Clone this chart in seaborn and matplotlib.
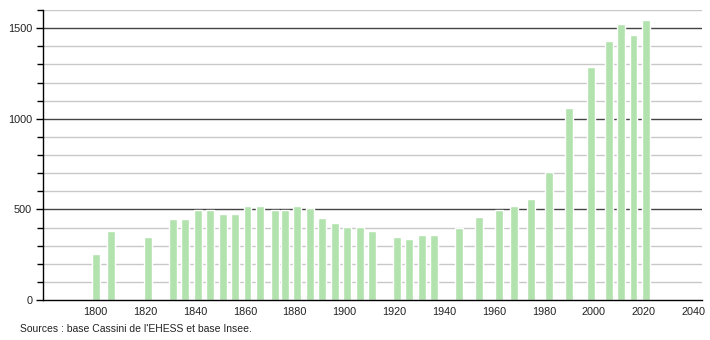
import matplotlib
matplotlib.use("Agg")
import matplotlib.pyplot as plt
import seaborn as sns
import pandas as pd
from matplotlib.ticker import MultipleLocator

years = [1800, 1806, 1821, 1831, 1836, 1841, 1846, 1851, 1856, 1861, 1866, 1872,
         1876, 1881, 1886, 1891, 1896, 1901, 1906, 1911, 1921, 1926, 1931, 1936,
         1946, 1954, 1962, 1968, 1975, 1982, 1990, 1999, 2006, 2011, 2016, 2021]
population = [255, 379, 346, 445, 449, 499, 499, 477, 477, 516, 516, 499,
              499, 516, 510, 455, 427, 405, 405, 382, 349, 338, 360, 360,
              397, 460, 499, 516, 558, 706, 1059, 1286, 1430, 1524, 1463, 1545]
x_ticks = list(range(1800, 2041, 20))
y_ticks = [0, 500, 1000, 1500]
source_text = "Sources : base Cassini de l'EHESS et base Insee."

df = pd.DataFrame({"annee": years, "pop": population})

sns.set_style("white")
plt.rcParams["font.family"] = ["Liberation Sans", "DejaVu Sans"]

fig = plt.figure(figsize=(7.1, 3.4), dpi=100)
ax = fig.add_axes([43.3 / 710, 40 / 340, (702 - 43.3) / 710, 290 / 340])

# grid lines
for v in range(100, 1601, 100):
    if v % 500 == 0:
        ax.axhline(v, color="#444444", lw=1.0, zorder=0)
    else:
        ax.axhline(v, color="#c8c8c8", lw=1.0, zorder=0)

sns.barplot(data=df, x="annee", y="pop", native_scale=True, width=0.8,
            color="#b2e3ae", saturation=1, ax=ax, zorder=2, errorbar=None)

ax.set_xlim(1779, 2043.5)
ax.set_ylim(0, 1600)
ax.set_xticks(x_ticks)
ax.set_xticklabels([str(t) for t in x_ticks])
ax.set_yticks(y_ticks)
ax.yaxis.set_minor_locator(MultipleLocator(100))
ax.set_xlabel("")
ax.set_ylabel("")

for s in ["top", "right"]:
    ax.spines[s].set_visible(False)
for s in ["left", "bottom"]:
    ax.spines[s].set_color("black")
    ax.spines[s].set_linewidth(1.0)

ax.tick_params(axis="x", which="both", bottom=False, length=0, labelsize=7.8,
               pad=5, colors="#222222")
ax.tick_params(axis="y", which="major", left=True, length=5, width=1,
               labelsize=7.8, pad=3, labelcolor="#222222", color="black")
ax.tick_params(axis="y", which="minor", left=True, length=4, width=1,
               color="black")

fig.text(20 / 710, 1 - 329 / 340, source_text, fontsize=7.5, color="#222222",
         va="center", ha="left")

fig.savefig("out.png", dpi=100)
